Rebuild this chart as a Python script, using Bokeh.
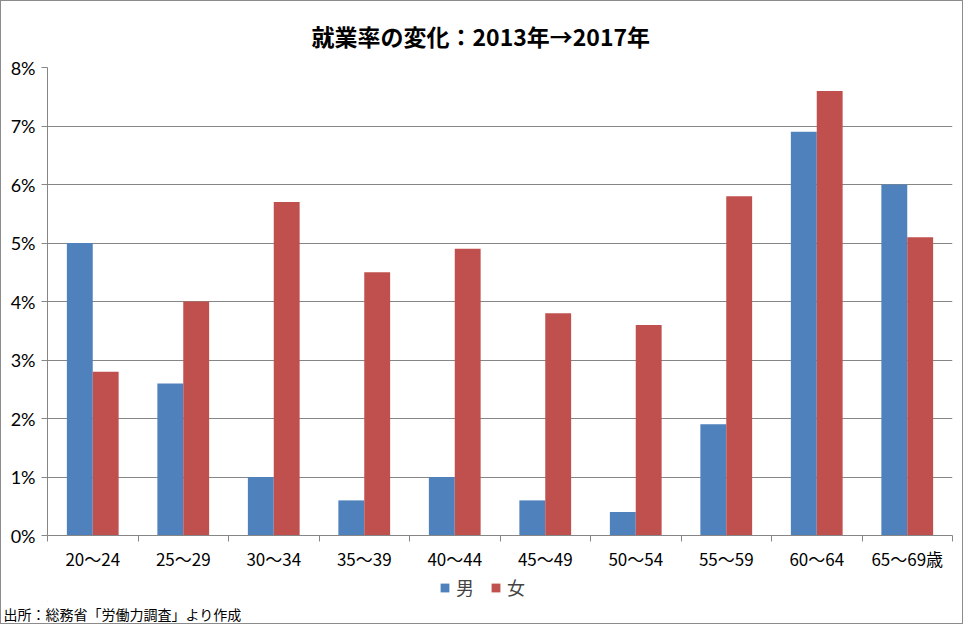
from bokeh.plotting import figure
from bokeh.layouts import column
from bokeh.models import (
    ColumnDataSource, Range1d, FixedTicker, NumeralTickFormatter, Legend, LegendItem, Title
)
from bokeh.transform import dodge
from bokeh.embed import file_html
from bokeh.resources import INLINE

# data (change in employment rate, 2013 -> 2017)
ages = ["20～24", "25～29", "30～34", "35～39", "40～44",
        "45～49", "50～54", "55～59", "60～64", "65～69歳"]
male = [0.050, 0.026, 0.010, 0.006, 0.010, 0.006, 0.004, 0.019, 0.069, 0.060]
female = [0.028, 0.040, 0.057, 0.045, 0.049, 0.038, 0.036, 0.058, 0.076, 0.051]
y_ticks = [0.0, 0.01, 0.02, 0.03, 0.04, 0.05, 0.06, 0.07, 0.08]
series = ["男", "女"]

title_text = "就業率の変化：2013年→2017年"
source_note = "出所：総務省「労働力調査」より作成"

BLUE = "#4F81BD"
RED = "#C0504D"
GRAY = "#868686"
JP = "Noto Sans CJK JP"

# one slot per age group; labels sit at slot centres, tick marks at slot edges
n = len(ages)
centres = [i + 0.5 for i in range(n)]
edges = list(range(n + 1))

source = ColumnDataSource(data=dict(pos=centres, male=male, female=female))

p = figure(width=961, height=572, x_range=Range1d(0, n), y_range=Range1d(0, 0.08),
           output_backend="svg", toolbar_location=None,
           min_border_left=46, min_border_right=10, min_border_top=63, min_border_bottom=34)
p.outline_line_color = None

# title
p.title.text = title_text
p.title.text_font = JP
p.title.text_font_size = "23px"
p.title.text_font_style = "bold"
p.title.text_color = "black"
p.title.align = "left"
p.title.offset = 264
p.title.standoff = 30

# bars
m = p.vbar(x=dodge("pos", -0.143), top="male", width=0.286,
           source=source, fill_color=BLUE, line_color=None)
f = p.vbar(x=dodge("pos", 0.143), top="female", width=0.286,
           source=source, fill_color=RED, line_color=None)

# x axis
p.xaxis.ticker = FixedTicker(ticks=centres, minor_ticks=edges)
p.xaxis.major_label_overrides = {c: a for c, a in zip(centres, ages)}
p.xaxis.major_tick_line_color = None
p.xaxis.minor_tick_line_color = GRAY
p.xaxis.minor_tick_in = 0
p.xaxis.minor_tick_out = 6
p.xaxis.axis_line_color = GRAY
p.xaxis.major_label_standoff = 4
p.xaxis.major_label_text_font = JP
p.xaxis.major_label_text_font_size = "17px"
p.xaxis.major_label_text_color = "black"

# y axis
p.yaxis.ticker = FixedTicker(ticks=y_ticks)
p.yaxis.formatter = NumeralTickFormatter(format="0%")
p.yaxis.axis_line_color = GRAY
p.yaxis.major_tick_line_color = GRAY
p.yaxis.major_tick_in = 0
p.yaxis.major_tick_out = 6
p.yaxis.minor_tick_line_color = None
p.yaxis.major_label_text_font = "Lato"
p.yaxis.major_label_text_font_size = "18px"
p.yaxis.major_label_text_color = "black"
p.yaxis.major_label_standoff = 6

p.xgrid.visible = False
p.ygrid.ticker = FixedTicker(ticks=y_ticks)
p.ygrid.grid_line_color = GRAY

# strip under the chart: legend and source note
foot = figure(width=961, height=50, x_range=Range1d(0, 1), y_range=Range1d(0, 1),
              output_backend="svg", toolbar_location=None,
              x_axis_location=None, y_axis_location=None, min_border=0)
foot.outline_line_color = None
foot.grid.visible = False
# legend swatches: one off-view row each, only their legend glyph is seen
swatch = ColumnDataSource(data=dict(x=[-5], top=[-5]))
km = foot.vbar(x="x", top="top", width=0.1, source=swatch, fill_color=BLUE, line_color=None)
kf = foot.vbar(x="x", top="top", width=0.1, source=swatch, fill_color=RED, line_color=None)

legend = Legend(items=[LegendItem(label=series[0], renderers=[km]),
                       LegendItem(label=series[1], renderers=[kf])],
                orientation="horizontal", location=(392, 1),
                label_text_font=JP, label_text_font_size="18px", label_height=22,
                glyph_width=11, glyph_height=11, label_standoff=6, spacing=14,
                padding=0, margin=0, border_line_color=None, background_fill_alpha=0)
foot.add_layout(legend)

note = Title(text=source_note, align="left", offset=-44, standoff=0,
             text_font=JP, text_font_size="14px", text_font_style="normal", text_color="black")
foot.add_layout(note, "below")

page = column(p, foot, spacing=0)
page.styles = {"border": "1px solid #8c8c8c"}

open("out.html", "w").write(file_html(page, INLINE))
